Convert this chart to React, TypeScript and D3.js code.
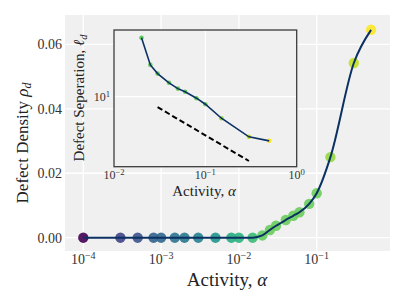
import React, { useEffect, useRef } from "react";
import * as d3 from "d3";

// main panel: defect density vs activity
const activity = [1e-4, 3e-4, 5e-4, 8e-4, 1e-3, 1.5e-3, 2e-3, 3e-3, 5e-3, 8e-3, 1e-2, 1.5e-2,
  2e-2, 2.5e-2, 3e-2, 4e-2, 5e-2, 6e-2, 8e-2, 0.1, 0.15, 0.3, 0.5];
const density = [0, 0, 0, 0, 0, 0, 0, 0, 0, 0, 0, 0,
  0.0007, 0.0024, 0.0037, 0.0055, 0.0068, 0.0079, 0.0105, 0.0138, 0.025, 0.0542, 0.0645];
// colour value (viridis) for each point
const colourValue = [0, 0.2, 0.25, 0.31, 0.33, 0.38, 0.4, 0.44, 0.53, 0.62, 0.64, 0.68,
  0.76, 0.77, 0.77, 0.77, 0.77, 0.77, 0.77, 0.78, 0.84, 0.91, 1.0];

// inset: defect separation vs activity
const insetActivity = [0.02, 0.025, 0.03, 0.04, 0.05, 0.06, 0.08, 0.1, 0.15, 0.3, 0.5];
const separation = [34.9, 19.6, 16.3, 13.4, 11.85, 11.1, 9.67, 8.51, 6.32, 4.26, 3.91];
const guideActivity = [0.03, 0.3];
const guideSeparation = [8.0, 2.55];

const xTicks = [1e-4, 1e-3, 1e-2, 1e-1];
const yTicks = [0, 0.02, 0.04, 0.06];
const insetXTicks = [1e-2, 1e-1, 1];
const insetYTicks = [10];

const FONT = "'Liberation Serif', 'DejaVu Serif', serif";
const LINE = "#0b3163";
const BG = "#f0f0f0";

function powLabel(sel, v) {
  const e = Math.round(Math.log10(v));
  sel.append("tspan").text("10");
  sel.append("tspan")
    .attr("dy", "-0.45em")
    .style("font-size", "0.72em")
    .text(e < 0 ? "\u2212" + Math.abs(e) : String(e));
}

export default function App() {
  const ref = useRef(null);

  useEffect(() => {
    const svg = d3.select(ref.current);
    svg.selectAll("*").remove();

    // ---- main axes ----
    const left = 65, right = 390, top = 15, bottom = 251;
    const x = d3.scaleLog().domain([5.82e-5, 0.875]).range([left, right]);
    const y = d3.scaleLinear().domain([-0.00413, 0.0691]).range([bottom, top]);

    svg.append("rect")
      .attr("x", left).attr("y", top)
      .attr("width", right - left).attr("height", bottom - top)
      .attr("fill", BG);

    const grid = svg.append("g").attr("stroke", "#fff").attr("stroke-width", 1.3);
    grid.selectAll(".vx").data(xTicks).join("line")
      .attr("x1", d => x(d)).attr("x2", d => x(d))
      .attr("y1", top).attr("y2", bottom);
    grid.selectAll(".hy").data(yTicks).join("line")
      .attr("y1", d => y(d)).attr("y2", d => y(d))
      .attr("x1", left).attr("x2", right);

    svg.selectAll(".xt").data(xTicks).join("text")
      .attr("class", "xt")
      .attr("x", d => x(d)).attr("y", 264)
      .attr("text-anchor", "middle")
      .style("font-family", FONT).style("font-size", "14px").style("fill", "#333")
      .each(function (d) { powLabel(d3.select(this), d); });

    svg.selectAll(".yt").data(yTicks).join("text")
      .attr("class", "yt")
      .attr("x", 62).attr("y", d => y(d) + 5)
      .attr("text-anchor", "end")
      .style("font-family", FONT).style("font-size", "14px").style("fill", "#333")
      .text(d => d.toFixed(2));

    const xl = svg.append("text")
      .attr("x", 227).attr("y", 286)
      .attr("text-anchor", "middle")
      .style("font-family", FONT).style("font-size", "19px").style("fill", "#222");
    xl.append("tspan").text("Activity, ");
    xl.append("tspan").style("font-style", "italic").text("\u03b1");

    const yl = svg.append("text")
      .attr("transform", "translate(28,143) rotate(-90)")
      .attr("text-anchor", "middle")
      .style("font-family", FONT).style("font-size", "17px").style("fill", "#222");
    yl.append("tspan").text("Defect Density ");
    yl.append("tspan").style("font-style", "italic").text("\u03c1");
    yl.append("tspan").attr("dy", "0.25em").style("font-size", "0.7em").style("font-style", "italic").text("d");

    const mainData = activity.map((a, i) => ({ a, r: density[i], c: colourValue[i] }));

    svg.append("g").selectAll("circle").data(mainData).join("circle")
      .attr("cx", d => x(d.a)).attr("cy", d => y(d.r))
      .attr("r", 5.2)
      .attr("fill", d => d3.interpolateViridis(d.c))
      .attr("fill-opacity", 0.9);

    const mainLine = d3.line()
      .x(d => x(d.a)).y(d => y(d.r))
      .curve(d3.curveMonotoneX);
    svg.append("path")
      .attr("d", mainLine(mainData))
      .attr("fill", "none").attr("stroke", LINE).attr("stroke-width", 2);

    // ---- inset ----
    const il = 114, ir = 296.7, it = 30, ib = 166.7;
    const ix = d3.scaleLog().domain([0.01, 1]).range([il, ir]);
    const iy = d3.scaleLog().domain([2.26, 41.1]).range([ib, it]);

    svg.append("rect")
      .attr("x", il).attr("y", it)
      .attr("width", ir - il).attr("height", ib - it)
      .attr("fill", BG);

    const igrid = svg.append("g").attr("stroke", "#fff").attr("stroke-width", 1.2);
    igrid.selectAll("line.v").data(insetXTicks).join("line")
      .attr("class", "v")
      .attr("x1", d => ix(d)).attr("x2", d => ix(d))
      .attr("y1", it).attr("y2", ib);
    igrid.selectAll("line.h").data(insetYTicks).join("line")
      .attr("class", "h")
      .attr("y1", d => iy(d)).attr("y2", d => iy(d))
      .attr("x1", il).attr("x2", ir);

    const guide = guideActivity.map((a, i) => ({ a, s: guideSeparation[i] }));
    svg.append("path")
      .attr("d", d3.line().x(d => ix(d.a)).y(d => iy(d.s))(guide))
      .attr("fill", "none").attr("stroke", "#000")
      .attr("stroke-width", 2).attr("stroke-dasharray", "5.5,3");

    const insetData = insetActivity.map((a, i) => {
      const k = activity.indexOf(a);
      return { a, s: separation[i], c: k >= 0 ? colourValue[k] : 0.77 };
    });
    svg.append("g").selectAll("circle").data(insetData).join("circle")
      .attr("cx", d => ix(d.a)).attr("cy", d => iy(d.s))
      .attr("r", 2.3)
      .attr("fill", d => d3.interpolateViridis(d.c));

    svg.append("path")
      .attr("d", d3.line().x(d => ix(d.a)).y(d => iy(d.s))(insetData))
      .attr("fill", "none").attr("stroke", LINE).attr("stroke-width", 1.6);

    svg.append("rect")
      .attr("x", il).attr("y", it)
      .attr("width", ir - il).attr("height", ib - it)
      .attr("fill", "none").attr("stroke", "#3a3a3a").attr("stroke-width", 1.3);

    svg.selectAll(".ixt").data(insetXTicks).join("text")
      .attr("class", "ixt")
      .attr("x", d => ix(d)).attr("y", 179)
      .attr("text-anchor", "middle")
      .style("font-family", FONT).style("font-size", "12px").style("fill", "#333")
      .each(function (d) { powLabel(d3.select(this), d); });

    svg.selectAll(".iyt").data(insetYTicks).join("text")
      .attr("class", "iyt")
      .attr("x", 110).attr("y", d => iy(d) + 4)
      .attr("text-anchor", "end")
      .style("font-family", FONT).style("font-size", "12px").style("fill", "#333")
      .each(function (d) { powLabel(d3.select(this), d); });

    const ixl = svg.append("text")
      .attr("x", 204).attr("y", 196)
      .attr("text-anchor", "middle")
      .style("font-family", FONT).style("font-size", "15px").style("fill", "#222");
    ixl.append("tspan").text("Activity, ");
    ixl.append("tspan").style("font-style", "italic").text("\u03b1");

    const iyl = svg.append("text")
      .attr("transform", "translate(84,98) rotate(-90)")
      .attr("text-anchor", "middle")
      .style("font-family", FONT).style("font-size", "15px").style("fill", "#222");
    iyl.append("tspan").text("Defect Seperation, ");
    iyl.append("tspan").style("font-style", "italic").text("\u2113");
    iyl.append("tspan").attr("dy", "0.25em").style("font-size", "0.7em").style("font-style", "italic").text("d");
  }, []);

  return (
    <svg ref={ref} width={407} height={305}
      style={{ position: "absolute", left: 0, top: 0, background: "#fff" }} />
  );
}
